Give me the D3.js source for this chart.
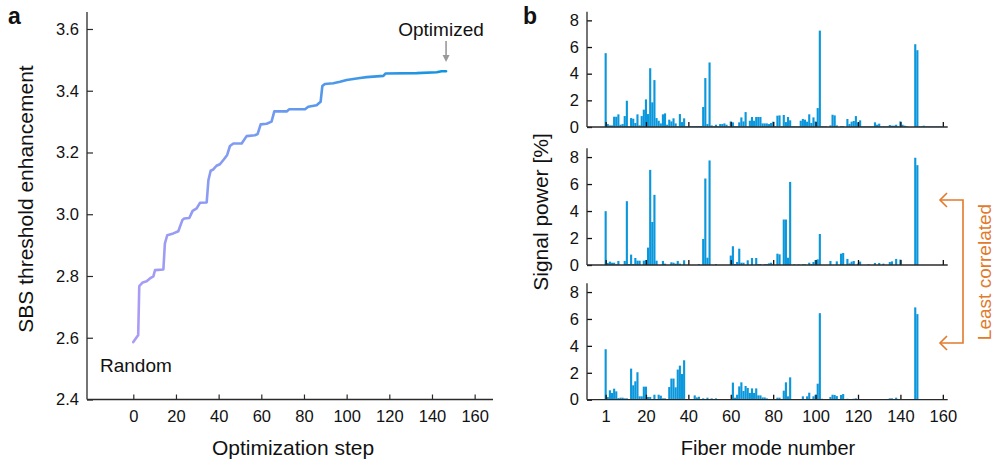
<!DOCTYPE html>
<html><head><meta charset="utf-8">
<script src="https://cdn.jsdelivr.net/npm/d3@7"></script>
<style>body{margin:0;background:#fff}svg{display:block}text{font-family:"Liberation Sans",Arial,sans-serif;fill:#111}</style>
</head><body>
<script>
// ---------- Panel a data ----------
const optSteps = [0,1.9,2.3,2.8,4.4,6.25,7.8,9.4,10.2,14.1,14.8,15.9,18.75,21.1,23,23.9,26.25,27.8,29.7,31.25,34.4,35.2,36.25,37.5,39,40.6,42.5,44,45.3,46.9,50.8,53.1,57,58.3,59.7,62.5,64.8,66.1,71.9,73.1,80.5,82,85.9,87.8,88.6,89.8,93.75,96.9,100,106.25,109.4,117.2,118.3,132.8,142.2,144.5,146.6];
const optValues = [2.586,2.605,2.608,2.767,2.779,2.783,2.792,2.799,2.819,2.821,2.905,2.932,2.938,2.945,2.981,2.986,2.988,3.011,3.019,3.037,3.038,3.11,3.141,3.145,3.157,3.162,3.178,3.192,3.221,3.229,3.229,3.253,3.256,3.26,3.291,3.293,3.30,3.333,3.333,3.34,3.34,3.348,3.353,3.364,3.415,3.422,3.424,3.429,3.435,3.441,3.444,3.448,3.456,3.457,3.46,3.463,3.463];
const aXTicks = [0,20,40,60,80,100,120,140,160];
const aYTicks = [2.4,2.6,2.8,3.0,3.2,3.4,3.6];

// ---------- Panel b data (signal power [%] for fiber modes 1..159) ----------
const powerTop = [
5.54,0.22,0.12,0.12,0.77,0.77,0.95,0.17,0.22,0.82,
1.97,0.05,0.67,0.62,0.30,0.95,0.12,0.82,1.30,2.07,
0.97,4.41,1.85,3.52,0.67,0.47,0.27,0.95,1.02,0.17,
0.55,0.42,0.65,0.27,0.05,0.97,0.37,0.65,0.05,0.05,
0.07,0.07,0.07,0.07,0.07,0.07,1.50,3.67,0.22,4.84,
0.12,0.05,0.17,0.05,0.22,0.22,0.27,0.17,0.05,0.42,
0.35,0.05,0.05,0.35,0.72,0.42,1.12,0.05,0.47,0.75,
0.47,0.75,0.75,0.75,0.27,0.27,0.27,0.22,0.30,0.40,
0.05,0.85,0.87,0.05,0.90,0.37,0.75,0.50,0.05,0.05,
0.05,0.05,0.47,0.60,0.55,0.40,0.95,0.30,0.72,0.42,
1.42,7.23,0.05,0.05,0.05,0,0.12,0.92,0.87,0.12,
0,0.07,0.07,0,0.60,0.22,0.40,0.45,0.82,0.35,
0.50,0.05,0.05,0.05,0.05,0.05,0.05,0.35,0.17,0.25,
0.05,0.05,0.05,0.05,0.15,0.10,0.10,0.17,0.05,0.42,
0.17,0.10,0.05,0,0,0,6.21,5.76,0.05,0.05,
0.10,0.05,0.05,0.05,0.05,0.05,0.05,0.05,0.05];
const powerMid = [
3.99,0.15,0.25,0.17,0.17,0.05,0.30,0,0,0.30,
4.73,0.07,0.77,0.07,0.52,0.32,0.32,0,0.32,0.37,
1.29,7.05,3.19,5.20,0.32,0,0,0.30,0.10,0,
0,0.20,0.17,0.10,0.30,0.10,0,0.35,0,0,
0,0,0,0,0.07,0,1.93,6.41,0.54,7.75,
0,0,0.07,0,0,0,0,0,0,0.70,
1.39,0.07,0.22,1.21,0.17,0.17,0,0.35,0,0.52,
0,0.52,0.07,0.07,0,0.07,0.07,0.12,0.17,0.05,
0,0.84,0.79,0,3.37,3.37,0.54,6.16,0,0.05,
0,0.05,0,0.05,0.05,0,0.17,0.07,0.22,0.37,
0.42,2.30,0,0,0,0,0.30,0,0,0.27,
0,0.84,0.89,0,0.45,0.12,0.25,0.30,0,0.10,
0.25,0,0,0,0.05,0,0,0.15,0,0.15,
0,0.10,0,0,0.22,0.27,0,0.45,0,0.40,
0,0,0,0,0,0,7.95,7.40,0,0,
0,0,0,0,0,0,0,0,0];
const powerBot = [
3.75,0.20,0.70,0.50,0.82,0.62,0.12,0.15,0.15,0.10,
0.10,0,2.31,1.07,1.37,2.04,0.25,0.25,0.97,0.97,
0.20,0.20,0,0.37,0,0.37,0.30,0.10,0.10,0,
0.94,1.57,1.57,0.92,2.24,2.53,1.91,2.93,0,0,
0,0,0.32,0.17,0.22,0,0.10,0,0.15,0,
0.10,0,0.10,0,0.05,0.05,0.05,0,0,0,
1.27,0.15,0.37,0.99,1.29,0.65,1.02,0.87,0.50,0.84,
0.50,0.84,0.32,0.32,0.17,0.17,0.10,0.05,0.05,0,
0,0.15,0.15,0,0.67,1.29,0.25,1.66,0,0,
0,0,0,0.25,0,0.25,0.52,0.05,0.25,0.37,
1.19,6.43,0.07,0,0,0,0.20,0.37,0.35,0.27,
0,0.35,0.42,0,0.07,0,0,0.07,0.10,0,
0.05,0,0,0,0,0,0,0,0,0,
0,0,0,0,0.10,0.10,0,0.15,0,0,
0,0,0,0,0,0,6.86,6.36,0,0,
0,0,0,0,0,0,0,0,0];
const bXTicks = [1,20,40,60,80,100,120,140,160];
const bYTicks = [0,2,4,6,8];

const W = 995, H = 464;
const svg = d3.select("body").append("svg").attr("width", W).attr("height", H);
const axisColor = "#2a2a2a";

// ---------- Panel a ----------
const xA = d3.scaleLinear().domain([-21.7, 168.6]).range([87, 493]);
const yA = d3.scaleLinear().domain([2.4, 3.655]).range([399.5, 12]);
const gA = svg.append("g");

const grad = svg.append("defs").append("linearGradient")
  .attr("id", "curveGrad").attr("gradientUnits", "userSpaceOnUse")
  .attr("x1", xA(0)).attr("x2", xA(147)).attr("y1", 0).attr("y2", 0);
grad.append("stop").attr("offset", 0).attr("stop-color", "#ab9cf6");
grad.append("stop").attr("offset", 0.45).attr("stop-color", "#6f9af0");
grad.append("stop").attr("offset", 1).attr("stop-color", "#0f93de");

const xAxisA = d3.axisBottom(xA).tickValues(aXTicks).tickSize(-5).tickPadding(11).tickFormat(d3.format("d"));
const yAxisA = d3.axisLeft(yA).tickValues(aYTicks).tickSize(-6).tickPadding(8).tickFormat(d3.format(".1f"));
gA.append("g").attr("transform", "translate(0,399.5)").call(xAxisA);
gA.append("g").attr("transform", "translate(87,0)").call(yAxisA);
gA.selectAll(".domain").attr("d", null);
gA.append("line").attr("x1", 87).attr("x2", 493).attr("y1", 399.5).attr("y2", 399.5).attr("stroke", axisColor).attr("stroke-width", 1.3);
gA.append("line").attr("x1", 87).attr("x2", 87).attr("y1", 12).attr("y2", 399.5).attr("stroke", axisColor).attr("stroke-width", 1.3);
gA.selectAll(".tick line").attr("stroke", axisColor).attr("stroke-width", 1.2);
gA.selectAll(".tick text").style("font-size", "16.5px").attr("fill", "#111");

const lineA = d3.line().x((d, i) => xA(optSteps[i])).y(d => yA(d));
gA.append("path").datum(optValues).attr("d", lineA).attr("fill", "none")
  .attr("stroke", "url(#curveGrad)").attr("stroke-width", 2.6).attr("stroke-linejoin", "round").attr("stroke-linecap", "round");

gA.append("text").attr("x", 441).attr("y", 36).attr("text-anchor", "middle").style("font-size", "19px").text("Optimized");
gA.append("line").attr("x1", xA(146.6)).attr("x2", xA(146.6)).attr("y1", 41).attr("y2", 56).attr("stroke", "#999").attr("stroke-width", 1.6);
gA.append("path").attr("d", `M${xA(146.6)-3.5},55 L${xA(146.6)+3.5},55 L${xA(146.6)},62 Z`).attr("fill", "#999");
gA.append("text").attr("x", 100).attr("y", 372).style("font-size", "19px").text("Random");
gA.append("text").attr("x", 293).attr("y", 455).attr("text-anchor", "middle").style("font-size", "21px").text("Optimization step");
gA.append("text").attr("transform", "translate(33,199) rotate(-90)").attr("text-anchor", "middle").style("font-size", "21px").text("SBS threshold enhancement");
gA.append("text").attr("x", 8).attr("y", 24).style("font-size", "23px").style("font-weight", "bold").text("a");

// ---------- Panel b ----------
const xB = d3.scaleLinear().domain([-7.8, 162.3]).range([587, 947.7]);
const panels = [
  {data: powerTop, top: 11.7, bottom: 127},
  {data: powerMid, top: 148.3, bottom: 265},
  {data: powerBot, top: 283.3, bottom: 399.7}
];
const barColor = "#0a97dc";
panels.forEach((p, k) => {
  const y = d3.scaleLinear().domain([0, 8.65]).range([p.bottom, p.top]);
  const g = svg.append("g");
  g.selectAll("rect").data(p.data).join("rect")
    .attr("x", (d, i) => xB(i + 1 - 0.5))
    .attr("width", xB(1.5) - xB(0.5))
    .attr("y", d => y(d))
    .attr("height", d => Math.max(0, y(0) - y(d)))
    .attr("fill", barColor);
  const xAx = d3.axisBottom(xB).tickValues(bXTicks).tickSize(-5).tickPadding(11).tickFormat(d3.format("d"));
  const yAx = d3.axisLeft(y).tickValues(bYTicks).tickSize(-5).tickPadding(8);
  const gx = g.append("g").attr("transform", `translate(0,${p.bottom})`).call(xAx);
  const gy = g.append("g").attr("transform", "translate(587,0)").call(yAx);
  if (k < 2) gx.selectAll(".tick text").remove();
  g.selectAll(".domain").attr("d", null);
  g.append("line").attr("x1", 587).attr("x2", 947.7).attr("y1", p.bottom).attr("y2", p.bottom).attr("stroke", axisColor).attr("stroke-width", 1.3);
  g.append("line").attr("x1", 587).attr("x2", 587).attr("y1", p.top).attr("y2", p.bottom).attr("stroke", axisColor).attr("stroke-width", 1.3);
  g.selectAll(".tick line").attr("stroke", "#111").attr("stroke-width", 1.3);
  g.selectAll(".tick text").style("font-size", "16.5px").attr("fill", "#111");
});
svg.append("text").attr("x", 768).attr("y", 455).attr("text-anchor", "middle").style("font-size", "20px").text("Fiber mode number");
svg.append("text").attr("transform", "translate(548,212) rotate(-90)").attr("text-anchor", "middle").style("font-size", "21px").text("Signal power [%]");
svg.append("text").attr("x", 523).attr("y", 24).style("font-size", "23px").style("font-weight", "bold").text("b");

// bracket "Least correlated"
const orange = "#e2792b";
const gb = svg.append("g").attr("fill", "none").attr("stroke", orange).attr("stroke-width", 1.6);
gb.append("path").attr("d", "M940,200 H963 V343 H940");
gb.append("path").attr("d", "M947,193 L940,200 L947,207");
gb.append("path").attr("d", "M947,336 L940,343 L947,350");
svg.append("text").attr("transform", "translate(991,272) rotate(-90)").attr("text-anchor", "middle")
  .style("font-size", "19px").style("fill", orange).text("Least correlated");
</script>
</body></html>
